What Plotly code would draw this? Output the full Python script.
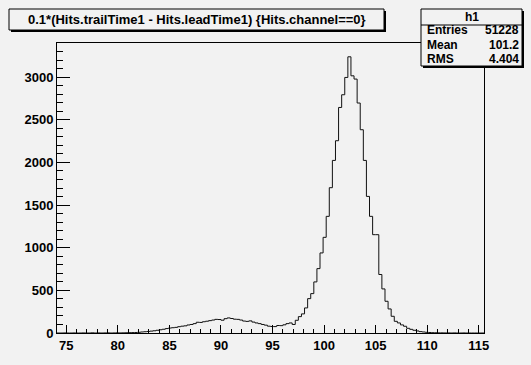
import numpy as np
import plotly.graph_objects as go

# ---- data ----
title_text = "0.1*(Hits.trailTime1 - Hits.leadTime1) {Hits.channel==0}"
hist_name = "h1"
stat_labels = ["Entries", "Mean", "RMS"]
stat_values = ["51228", "101.2", "4.404"]

bin_lo = 74.1
bin_width = 0.3
counts = [
    0, 0, 1, 0, 0, 1, 0, 0, 1, 0,
    0, 2, 0, 1, 0, 1, 2, 0, 1, 2,
    1, 2, 3, 4, 5, 6, 8, 12, 15, 18,
    22, 26, 32, 38, 44, 52, 58, 62, 66, 74,
    80, 84, 94, 100, 110, 126, 124, 132, 138, 145,
    152, 160, 158, 150, 168, 177, 170, 162, 160, 152,
    140, 136, 142, 128, 118, 110, 100, 92, 80, 76,
    75, 88, 86, 96, 110, 118, 100, 149, 192, 224,
    294, 403, 462, 599, 755, 939, 1122, 1368, 1704, 2024,
    2255, 2645, 2794, 2997, 3239, 3016, 2978, 2697, 2384, 2024,
    1602, 1368, 1153, 1153, 686, 517, 372, 282, 196, 137,
    118, 95, 79, 55, 43, 32, 24, 16, 12, 8,
    6, 4, 3, 2, 2, 1, 1, 0, 1, 0,
    0, 1, 0, 0, 0, 0, 0, 0,
]

nb = len(counts)
edges = bin_lo + bin_width * np.arange(nb + 1)
bin_hi = edges[-1]
ymax = max(counts) * 1.05

xs = list(edges)
ys = list(counts) + [counts[-1]]

BG = "#f2f2f2"
FONT = "Liberation Sans, Arial, Helvetica, sans-serif"

W, H = 531, 365
L, R, T, B = 57, 484, 43, 333


def px(x):
    return (x - L) / (R - L)


def py(y):
    return (B - y) / (B - T)


fig = go.Figure()
fig.add_trace(go.Scatter(
    x=xs, y=ys, mode="lines", line=dict(color="#111111", width=1, shape="hv"),
    hoverinfo="skip", showlegend=False,
))

shapes = []


def pave(x0, y0, x1, y1):
    shapes.append(dict(type="rect", xref="paper", yref="paper",
                       x0=px(x0 + 2), x1=px(x1 + 2), y0=py(y1 + 2), y1=py(y0 + 2),
                       fillcolor="#000000", line=dict(width=0), layer="above"))
    shapes.append(dict(type="rect", xref="paper", yref="paper",
                       x0=px(x0), x1=px(x1), y0=py(y1), y1=py(y0),
                       fillcolor=BG, line=dict(color="#000000", width=1), layer="above"))


pave(9, 9, 384, 30)
pave(421, 9, 522, 66)
shapes.append(dict(type="line", xref="paper", yref="paper",
                   x0=px(421), x1=px(522), y0=py(25), y1=py(25),
                   line=dict(color="#000000", width=1), layer="above"))

ann = []
ann.append(dict(text=title_text, xref="paper", yref="paper", x=px(196.5), y=py(19.5),
                xanchor="center", yanchor="middle", showarrow=False,
                font=dict(family=FONT, size=13, color="#000000", weight="bold")))
ann.append(dict(text=hist_name, xref="paper", yref="paper", x=px(472), y=py(17),
                xanchor="center", yanchor="middle", showarrow=False,
                font=dict(family=FONT, size=12, color="#000000", weight="bold")))
row_y = [30.5, 45, 59.5]
for lab, val, yy in zip(stat_labels, stat_values, row_y):
    ann.append(dict(text=lab, xref="paper", yref="paper", x=px(425), y=py(yy),
                    xanchor="left", yanchor="middle", showarrow=False,
                    font=dict(family=FONT, size=12, color="#000000", weight="bold")))
    ann.append(dict(text=val, xref="paper", yref="paper", x=px(521), y=py(yy),
                    xanchor="right", yanchor="middle", showarrow=False,
                    font=dict(family=FONT, size=12, color="#000000", weight="bold")))

tickfont = dict(family=FONT, size=13, color="#000000", weight="bold")

fig.update_layout(
    width=W, height=H,
    margin=dict(l=L, r=W - R, t=T, b=H - B, pad=0),
    paper_bgcolor=BG, plot_bgcolor=BG,
    shapes=shapes, annotations=ann,
    showlegend=False,
    xaxis=dict(range=[bin_lo, bin_hi], showgrid=False, zeroline=False,
               showline=True, linecolor="#000000", linewidth=1, mirror=True,
               ticks="inside", ticklen=8, tickcolor="#000000", tickwidth=1,
               dtick=5, tick0=0, tickfont=tickfont,
               minor=dict(ticks="inside", ticklen=4, dtick=1, tick0=0, tickcolor="#000000", showgrid=False)),
    yaxis=dict(range=[0, ymax], showgrid=False, zeroline=False,
               showline=True, linecolor="#000000", linewidth=1, mirror=True,
               ticks="inside", ticklen=13, tickcolor="#000000", tickwidth=1,
               dtick=500, tick0=0, tickfont=tickfont,
               minor=dict(ticks="inside", ticklen=6, dtick=100, tick0=0, tickcolor="#000000", showgrid=False)),
)

fig.write_html(
    "out.html",
    config={"displayModeBar": False},
    post_script="document.body.style.margin='0';document.body.style.background='%s';" % BG,
)
